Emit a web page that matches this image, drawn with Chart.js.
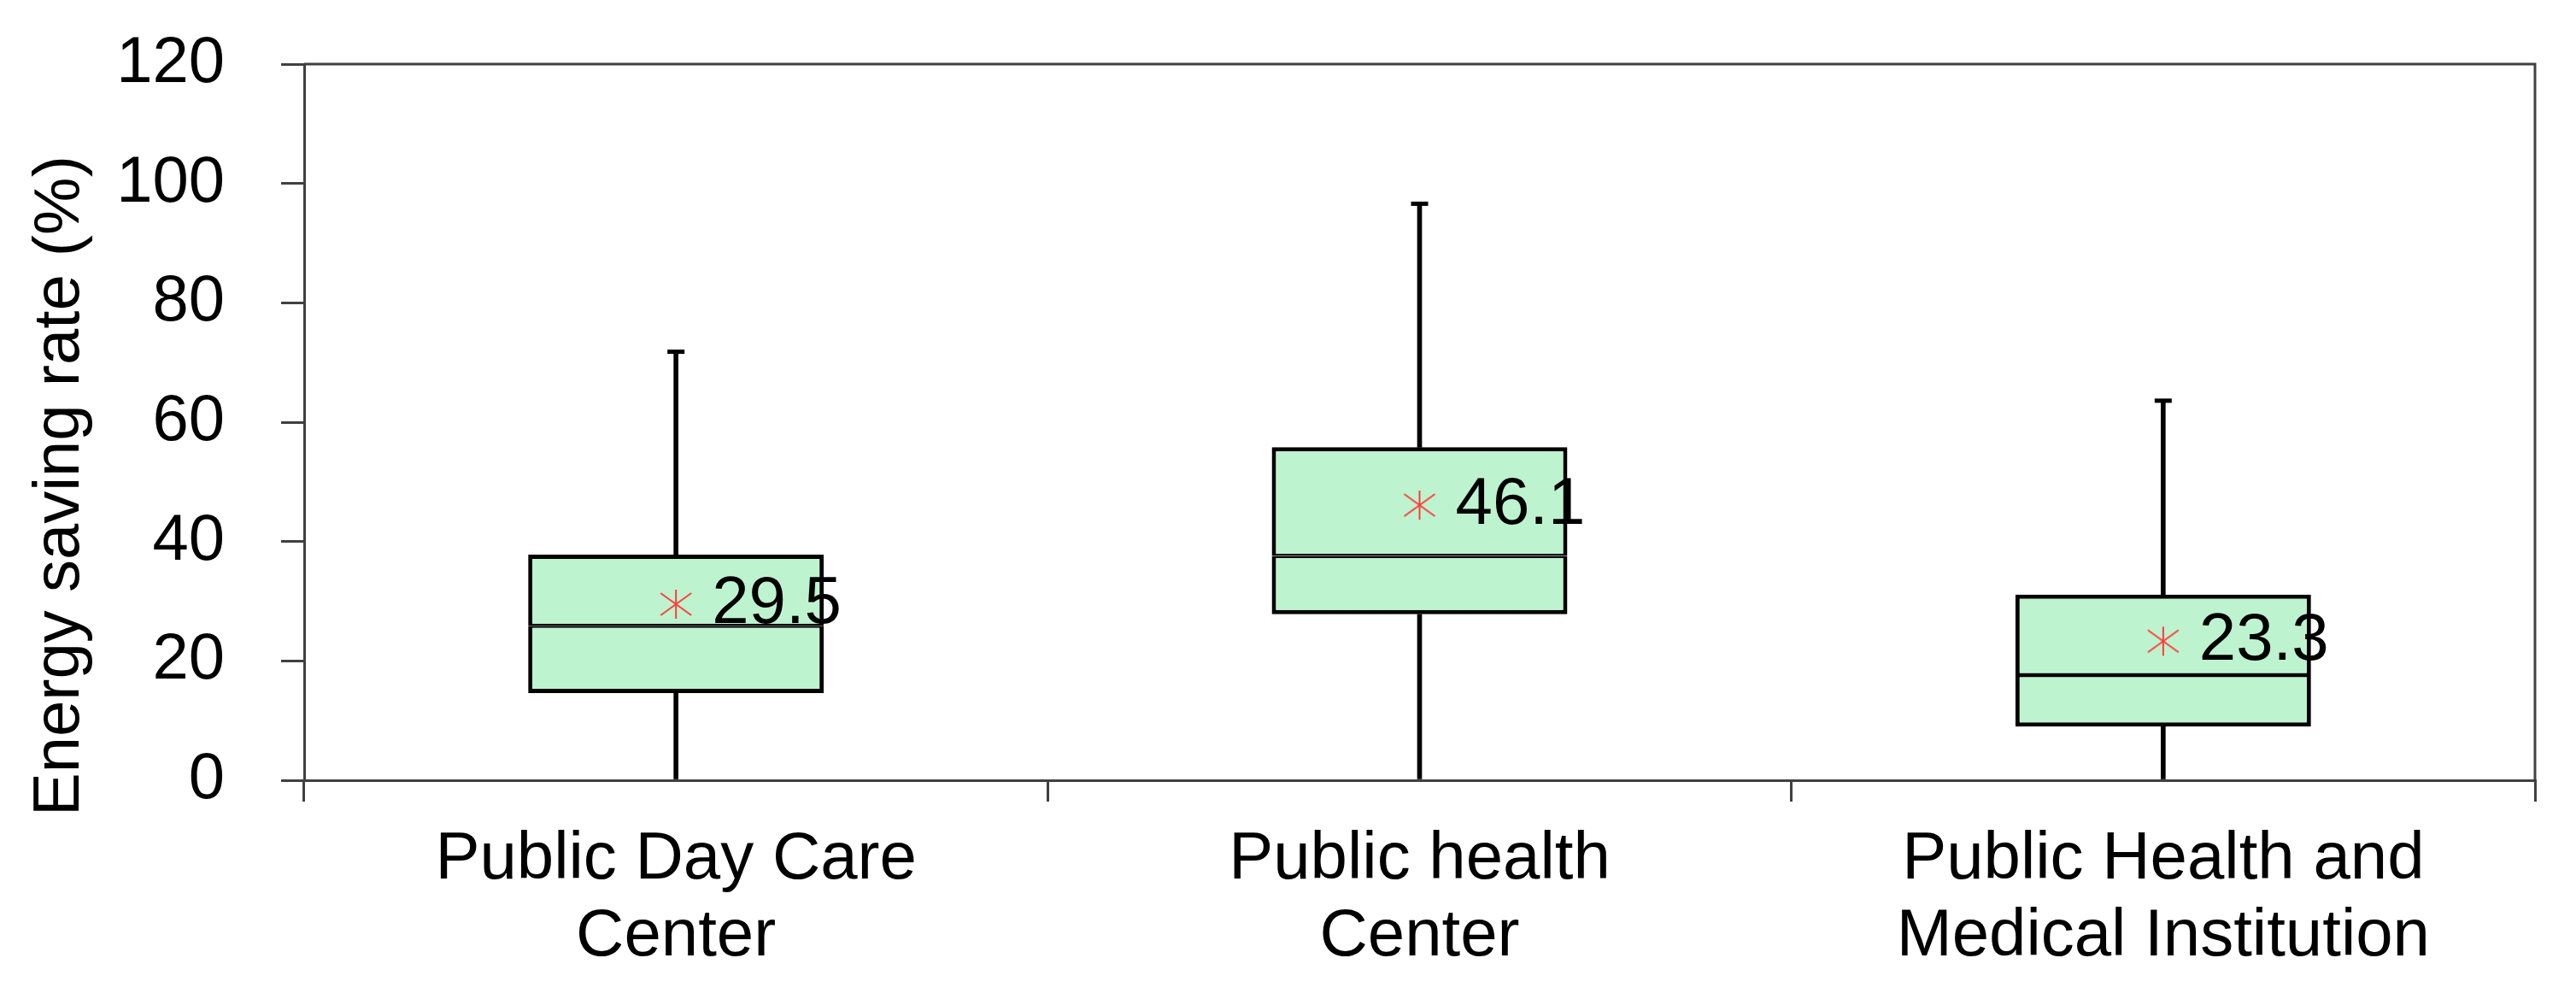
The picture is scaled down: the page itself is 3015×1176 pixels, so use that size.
<!DOCTYPE html>
<html>
<head>
<meta charset="utf-8">
<script src="https://cdn.jsdelivr.net/npm/chart.js@4.4.1/dist/chart.umd.min.js"></script>
<style>
  html, body { margin: 0; padding: 0; background: #fff; }
  #wrap { width: 3015px; height: 1176px; position: relative; }
</style>
</head>
<body>
<div id="wrap"><canvas id="boxChart"></canvas></div>
<script>
// Data
const categories = [
  ["Public Day Care", "Center"],
  ["Public health", "Center"],
  ["Public Health and", "Medical Institution"]
];
const minVals    = [0, 0, 0];
const q1Vals     = [14.6, 27.8, 9.0];
const medianVals = [25.9, 37.6, 17.6];
const q3Vals     = [37.8, 55.8, 31.1];
const maxVals    = [71.8, 96.6, 63.6];
const meanVals   = [29.5, 46.1, 23.3];
const yTicks     = [0, 20, 40, 60, 80, 100, 120];

const FONT = "'Liberation Sans', Arial, sans-serif";
const AXIS = "#404040";
const FILL = "#bdf4cf";

// red six-armed asterisk for the mean
function makeStar(){
  const c = document.createElement("canvas");
  c.width = 40; c.height = 40;
  const g = c.getContext("2d");
  g.strokeStyle = "#ff3b3b";
  g.lineWidth = 2;
  g.beginPath();
  g.moveTo(20, 3);  g.lineTo(20, 37);
  g.moveTo(2, 7);   g.lineTo(38, 33);
  g.moveTo(2, 33);  g.lineTo(38, 7);
  g.stroke();
  return c;
}
const star = makeStar();

// frame on top and right side of the plot
const framePlugin = {
  id: "frame",
  afterDatasetsDraw(chart){
    const {ctx, chartArea:a} = chart;
    ctx.save();
    ctx.strokeStyle = AXIS;
    ctx.lineWidth = 3;
    ctx.beginPath();
    ctx.moveTo(a.left, a.top);
    ctx.lineTo(a.right, a.top);
    ctx.lineTo(a.right, a.bottom);
    ctx.stroke();
    ctx.restore();
  }
};

// mean value labels next to the asterisks
const meanLabels = {
  id: "meanLabels",
  afterDatasetsDraw(chart){
    const idx = chart.data.datasets.findIndex(d => d.label === "Mean");
    const meta = chart.getDatasetMeta(idx);
    const ctx = chart.ctx;
    ctx.save();
    ctx.font = "78px " + FONT;
    ctx.fillStyle = "#000";
    ctx.textAlign = "left";
    ctx.textBaseline = "middle";
    meta.data.forEach((pt, i) => {
      ctx.fillText(meanVals[i].toFixed(1), pt.x + 42, pt.y);
    });
    ctx.restore();
  }
};

// y axis title, bottom-anchored like the original
const yTitle = {
  id: "yTitle",
  afterDraw(chart){
    const {ctx, chartArea:a} = chart;
    ctx.save();
    ctx.translate(92, a.bottom + 42);
    ctx.rotate(-Math.PI/2);
    ctx.font = "76px " + FONT;
    ctx.fillStyle = "#000";
    ctx.textAlign = "left";
    ctx.textBaseline = "alphabetic";
    ctx.fillText("Energy saving rate (%)", 0, 0);
    ctx.restore();
  }
};

const boxW = 0.3975;

new Chart(document.getElementById("boxChart"), {
  type: "bar",
  data: {
    labels: categories,
    datasets: [
      {
        label: "Lower whisker",
        data: minVals.map((v,i)=>[v, q1Vals[i]]),
        backgroundColor: "#000", borderWidth: 0,
        barThickness: 5, grouped: false, order: 5
      },
      {
        label: "Upper whisker",
        data: q3Vals.map((v,i)=>[v, maxVals[i]]),
        backgroundColor: "#000", borderWidth: 0,
        barThickness: 5, grouped: false, order: 5
      },
      {
        label: "Q1-Median",
        data: q1Vals.map((v,i)=>[v, medianVals[i]]),
        backgroundColor: FILL, borderColor: "#000",
        borderWidth: {top: 2.5, bottom: 5, left: 5, right: 5},
        borderSkipped: false,
        barPercentage: boxW, categoryPercentage: 1,
        grouped: false, order: 4
      },
      {
        label: "Median-Q3",
        data: medianVals.map((v,i)=>[v, q3Vals[i]]),
        backgroundColor: FILL, borderColor: "#000",
        borderWidth: {top: 5, bottom: 2.5, left: 5, right: 5},
        borderSkipped: false,
        barPercentage: boxW, categoryPercentage: 1,
        grouped: false, order: 4
      },
      {
        type: "line",
        label: "Max cap",
        data: maxVals,
        showLine: false,
        pointStyle: "line",
        pointRadius: 10,
        pointBorderWidth: 5,
        pointBorderColor: "#000",
        order: 2
      },
      {
        type: "line",
        label: "Mean",
        data: meanVals,
        showLine: false,
        pointStyle: star,
        pointRadius: 20,
        order: 1
      }
    ]
  },
  options: {
    responsive: true,
    maintainAspectRatio: false,
    animation: false,
    layout: {padding: {top: 75, right: 48, left: 0, bottom: 0}},
    plugins: {legend: {display: false}, tooltip: {enabled: false}},
    scales: {
      x: {
        offset: true,
        grid: {offset: true, drawOnChartArea: false, drawTicks: true, tickLength: 25, color: AXIS, lineWidth: 3},
        border: {display: true, color: AXIS, width: 3},
        ticks: {color: "#000", padding: 23, maxRotation: 0, autoSkip: false,
                font: {family: FONT, size: 78, lineHeight: 1.154}},
        afterFit: s => { s.height = 263; }
      },
      y: {
        min: yTicks[0], max: yTicks[yTicks.length-1],
        afterBuildTicks: s => { s.ticks = yTicks.map(v => ({value: v})); },
        grid: {drawOnChartArea: false, drawTicks: true, tickLength: 27, color: AXIS, lineWidth: 3},
        border: {display: true, color: AXIS, width: 3},
        ticks: {color: "#000", padding: 66, font: {family: FONT, size: 76}},
        afterFit: s => { s.width = 356; s.paddingTop = 0; s.paddingBottom = 0; }
      }
    }
  },
  plugins: [framePlugin, meanLabels, yTitle]
});
</script>
</body>
</html>
